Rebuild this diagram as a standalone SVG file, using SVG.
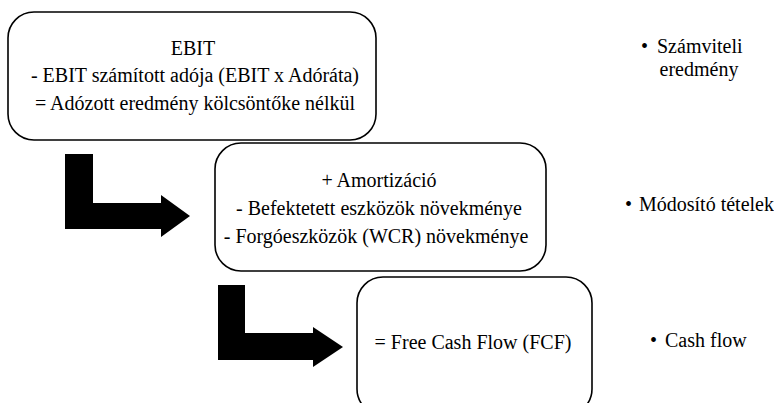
<svg xmlns="http://www.w3.org/2000/svg" width="774" height="403" viewBox="0 0 774 403">
<style>
.box{fill:#fff;stroke:#000;stroke-width:1.6}
.t{font-family:"Liberation Serif","Times New Roman",serif;font-size:20px;fill:#000}
.c{text-anchor:middle}
.arr{fill:#000;stroke:none}
</style>
<rect width="774" height="403" fill="#fff"/>
<g id="connectors">
<path class="arr" d="M65,154 H93 V203 H161 V195 L190,216 L161,237 V229 H65 Z"/>
<path class="arr" d="M218,285 H245 V333 H313 V327 L343,347 L313,367 V360 H218 Z"/>
</g>
<g id="node1">
<rect class="box" x="8" y="12" width="368" height="128" rx="26"/>
<text class="t c" x="193" y="55">EBIT</text>
<text class="t c" x="195" y="82">- EBIT számított adója (EBIT x Adóráta)</text>
<text class="t c" x="195" y="110">= Adózott eredmény kölcsöntőke nélkül</text>
</g>
<g id="node2">
<rect class="box" x="215" y="143" width="331" height="128" rx="26"/>
<text class="t c" x="379" y="187">+ Amortizáció</text>
<text class="t c" x="379" y="215">- Befektetett eszközök növekménye</text>
<text class="t c" x="376" y="243">- Forgóeszközök (WCR) növekménye</text>
</g>
<g id="node3">
<rect class="box" x="357" y="277" width="235" height="138" rx="26"/>
<text class="t c" x="473" y="349">= Free Cash Flow (FCF)</text>
</g>
<g id="labels">
<text class="t" x="641" y="53">•</text>
<text class="t" x="657" y="53">Számviteli</text>
<text class="t c" x="699" y="76">eredmény</text>
<text class="t" x="625" y="211">•</text>
<text class="t" x="639" y="211">Módosító tételek</text>
<text class="t" x="650" y="347">•</text>
<text class="t" x="665" y="347">Cash flow</text>
</g>
</svg>
